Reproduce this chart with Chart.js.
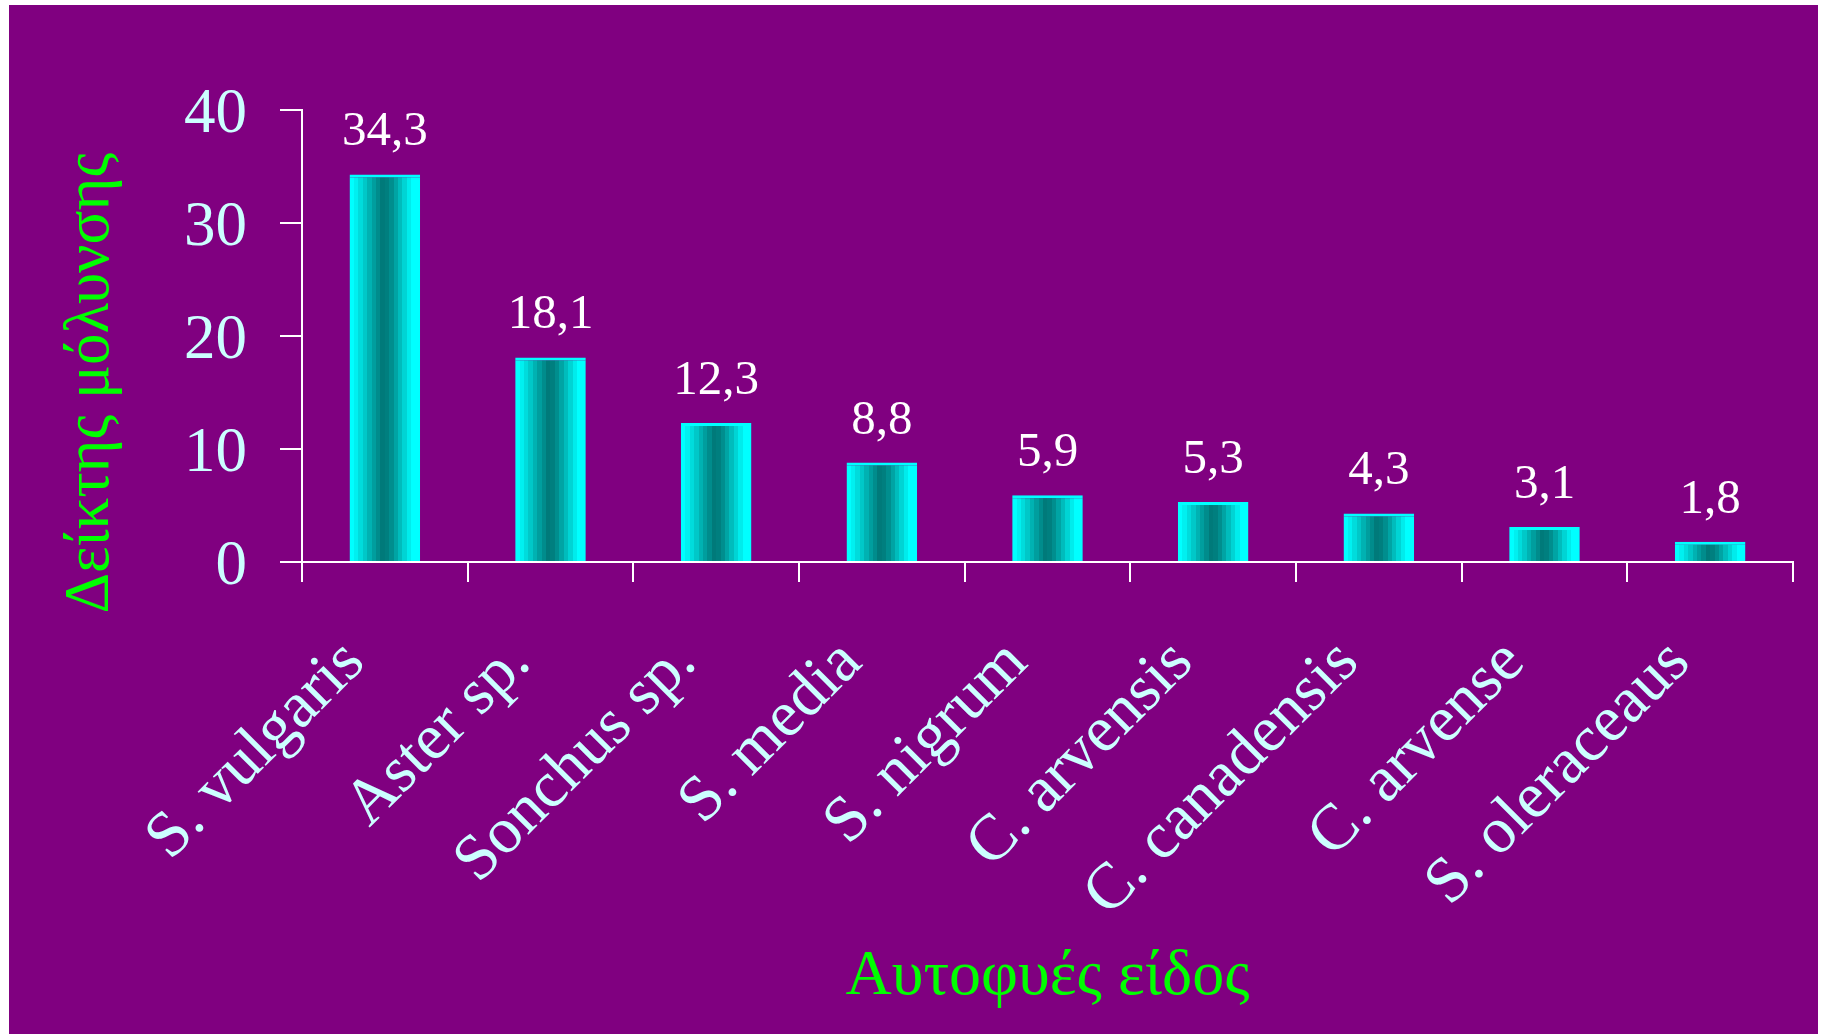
<!DOCTYPE html>
<html lang="el">
<head>
<meta charset="utf-8">
<title>Δείκτης μόλυνσης</title>
<script src="https://cdn.jsdelivr.net/npm/chart.js@4.4.1/dist/chart.umd.min.js"></script>
<style>
    html, body {
        margin: 0;
        padding: 0;
        background: #ffffff;
    }
    #chart-container {
        position: absolute;
        left: 9px;
        top: 5px;
        width: 1809px;
        height: 1029px;
        background: #800080;
    }
</style>
</head>
<body>
<div id="chart-container">
    <canvas id="infectionChart"></canvas>
</div>
<script>
// Weed species and their infection index
const species = ['S. vulgaris', 'Aster sp.', 'Sonchus sp.', 'S. media', 'S. nigrum',
    'C. arvensis', 'C. canadensis', 'C. arvense', 'S. oleraceaus'];
const infectionIndex = [34.3, 18.1, 12.3, 8.8, 5.9, 5.3, 4.3, 3.1, 1.8];
const yTicks = [0, 10, 20, 30, 40];

const xTitle = 'Αυτοφυές είδος';
const yTitle = 'Δείκτης μόλυνσης';

const serif = '"Liberation Serif", "Times New Roman", serif';
const tickColor = '#ccffff';
const lineColor = '#ffffff';
const titleColor = '#00ff00';

// Shades of the cylinder, left edge to right edge
const barShades = ['#00ffff', '#00f0f0', '#00dcdc', '#00c8c8', '#00b2b2', '#009e9e', '#008c8c',
    '#007a7a', '#007f7f', '#008e8e', '#00a4a4', '#00bcbc', '#00d4d4', '#00ecec', '#00ffff', '#00ffff'];
const barFraction = 0.426;

// Stepped horizontal gradient for one bar
const cylinderFill = (context) => {
    const chart = context.chart;
    const xScale = chart.scales.x;
    if (!xScale || !chart.chartArea) return '#00cccc';
    const center = xScale.getPixelForValue(context.dataIndex);
    const half = (xScale.width / species.length) * barFraction / 2;
    const gradient = chart.ctx.createLinearGradient(center - half, 0, center + half, 0);
    const n = barShades.length;
    barShades.forEach((shade, i) => {
        gradient.addColorStop(i / n, shade);
        gradient.addColorStop((i + 1) / n - 0.0001, shade);
    });
    return gradient;
};

// Numbers above the bars, with a decimal comma
const valueLabels = {
    id: 'valueLabels',
    afterDatasetsDraw(chart) {
        const { ctx } = chart;
        const meta = chart.getDatasetMeta(0);
        ctx.save();
        ctx.font = '49px ' + serif;
        ctx.fillStyle = '#ffffff';
        ctx.textAlign = 'center';
        ctx.textBaseline = 'alphabetic';
        meta.data.forEach((bar, i) => {
            const text = infectionIndex[i].toString().replace('.', ',');
            ctx.fillText(text, bar.x, bar.y - 29);
        });
        ctx.restore();
    }
};

// Vertical axis title, sitting a little below the middle of the axis
const yAxisTitle = {
    id: 'yAxisTitle',
    afterDraw(chart) {
        const { ctx } = chart;
        ctx.save();
        ctx.translate(99, 378);
        ctx.rotate(-Math.PI / 2);
        ctx.font = '63px ' + serif;
        ctx.fillStyle = titleColor;
        ctx.textAlign = 'center';
        ctx.textBaseline = 'alphabetic';
        ctx.fillText(yTitle, 0, 0);
        ctx.restore();
    }
};

const initChart = () => {
    const ctx = document.getElementById('infectionChart').getContext('2d');

    const data = {
        labels: species,
        datasets: [{
            data: infectionIndex,
            backgroundColor: cylinderFill,
            borderColor: '#00ffff',
            borderWidth: { top: 3, left: 0, right: 0, bottom: 0 },
            categoryPercentage: 1,
            barPercentage: barFraction
        }]
    };

    const config = {
        type: 'bar',
        data: data,
        options: {
            responsive: true,
            maintainAspectRatio: false,
            animation: false,
            layout: {
                padding: { top: 105, right: 25, left: 0, bottom: 0 }
            },
            plugins: {
                legend: { display: false },
                tooltip: { enabled: false }
            },
            scales: {
                x: {
                    afterFit: (scale) => { scale.height = 472; },
                    grid: {
                        offset: true,
                        drawOnChartArea: false,
                        drawTicks: true,
                        tickLength: 20,
                        color: lineColor,
                        lineWidth: 2
                    },
                    border: { display: true, color: lineColor, width: 2 },
                    ticks: {
                        autoSkip: false,
                        maxRotation: 45,
                        minRotation: 45,
                        padding: 43,
                        labelOffset: -30,
                        color: tickColor,
                        font: { family: serif, size: 65 }
                    },
                    title: {
                        display: true,
                        text: xTitle,
                        color: titleColor,
                        font: { family: serif, size: 64 },
                        padding: { top: 0, bottom: 18 }
                    }
                },
                y: {
                    min: 0,
                    max: 40,
                    afterFit: (scale) => { scale.width = 293; },
                    afterBuildTicks: (scale) => {
                        scale.ticks = yTicks.map(v => ({ value: v }));
                    },
                    grid: {
                        drawOnChartArea: false,
                        drawTicks: true,
                        tickLength: 22,
                        color: lineColor,
                        lineWidth: 2
                    },
                    border: { display: true, color: lineColor, width: 2 },
                    ticks: {
                        padding: 33,
                        labelOffset: 5,
                        color: tickColor,
                        font: { family: serif, size: 63 }
                    }
                }
            }
        },
        plugins: [valueLabels, yAxisTitle]
    };

    new Chart(ctx, config);
};

document.addEventListener('DOMContentLoaded', initChart);
</script>
</body>
</html>
